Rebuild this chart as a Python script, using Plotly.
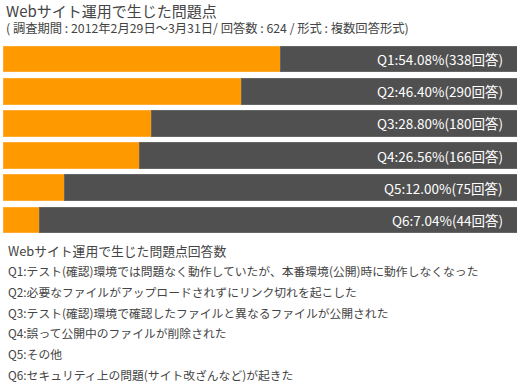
import plotly.graph_objects as go

categories = ["Q1", "Q2", "Q3", "Q4", "Q5", "Q6"]
percents = [54.08, 46.40, 28.80, 26.56, 12.00, 7.04]
counts = [338, 290, 180, 166, 75, 44]
title_text = "Webサイト運用で生じた問題点"
subtitle_text = "( 調査期間 : 2012年2月29日～3月31日/ 回答数 : 624 / 形式 : 複数回答形式)"
notes_title = "Webサイト運用で生じた問題点回答数"
notes = [
    "Q1:テスト(確認)環境では問題なく動作していたが、本番環境(公開)時に動作しなくなった",
    "Q2:必要なファイルがアップロードされずにリンク切れを起こした",
    "Q3:テスト(確認)環境で確認したファイルと異なるファイルが公開された",
    "Q4:誤って公開中のファイルが削除された",
    "Q5:その他",
    "Q6:セキュリティ上の問題(サイト改ざんなど)が起きた",
]

FONT = "Noto Sans CJK JP, Noto Sans, sans-serif"
TXT = "#444444"
rest = [100 - p for p in percents]
labels = [f"{c}:{p:.2f}%({n}回答)" for c, p, n in zip(categories, percents, counts)]

fig = go.Figure()
fig.add_trace(go.Bar(
    y=categories, x=percents, orientation="h",
    marker=dict(color="#FF9900", line=dict(color="#FFAA33", width=1)),
    hoverinfo="skip",
))
fig.add_trace(go.Bar(
    y=categories, x=rest, orientation="h",
    marker=dict(color="#505050", line=dict(color="#666666", width=1)),
    hoverinfo="skip",
))

H_T, H_B = 43, 154
fig.update_layout(
    barmode="stack",
    bargap=0.2,
    width=520, height=390,
    margin=dict(l=3, r=3, t=H_T, b=H_B, pad=0),
    paper_bgcolor="white", plot_bgcolor="white",
    showlegend=False,
    font=dict(family=FONT, color=TXT),
    xaxis=dict(range=[0, 100], visible=False, fixedrange=True),
    yaxis=dict(autorange="reversed", visible=False, fixedrange=True),
)

anns = []
for c, lab in zip(categories, labels):
    anns.append(dict(text=lab, x=100, y=c, xref="x", yref="y", xanchor="right", yanchor="middle",
                     xshift=-12, showarrow=False, font=dict(size=13.5, color="white", family=FONT)))

paper_anns = [
    dict(text=title_text, x=4, y=10.5, font=dict(size=15, color=TXT, family=FONT)),
    dict(text=subtitle_text, x=4, y=28.5, font=dict(size=12.3, color=TXT, family=FONT)),
    dict(text=notes_title, x=6, y=250, font=dict(size=12.8, color=TXT, family=FONT)),
]
for i, line in enumerate(notes):
    paper_anns.append(dict(text=line, x=6, y=270.5 + i * 20.8, font=dict(size=11.8, color=TXT, family=FONT)))
for a in paper_anns:
    a.update(xref="paper", yref="paper", showarrow=False, xanchor="left", yanchor="middle")
    a["x"] = (a["x"] - 3) / 514
    a["y"] = 1 - (a["y"] - H_T) / (390 - H_T - H_B)
    anns.append(a)
fig.update_layout(annotations=anns)

fig.write_html("out.html", config={"displayModeBar": False},
               post_script="document.body.style.margin='0';document.body.style.overflow='hidden';")
